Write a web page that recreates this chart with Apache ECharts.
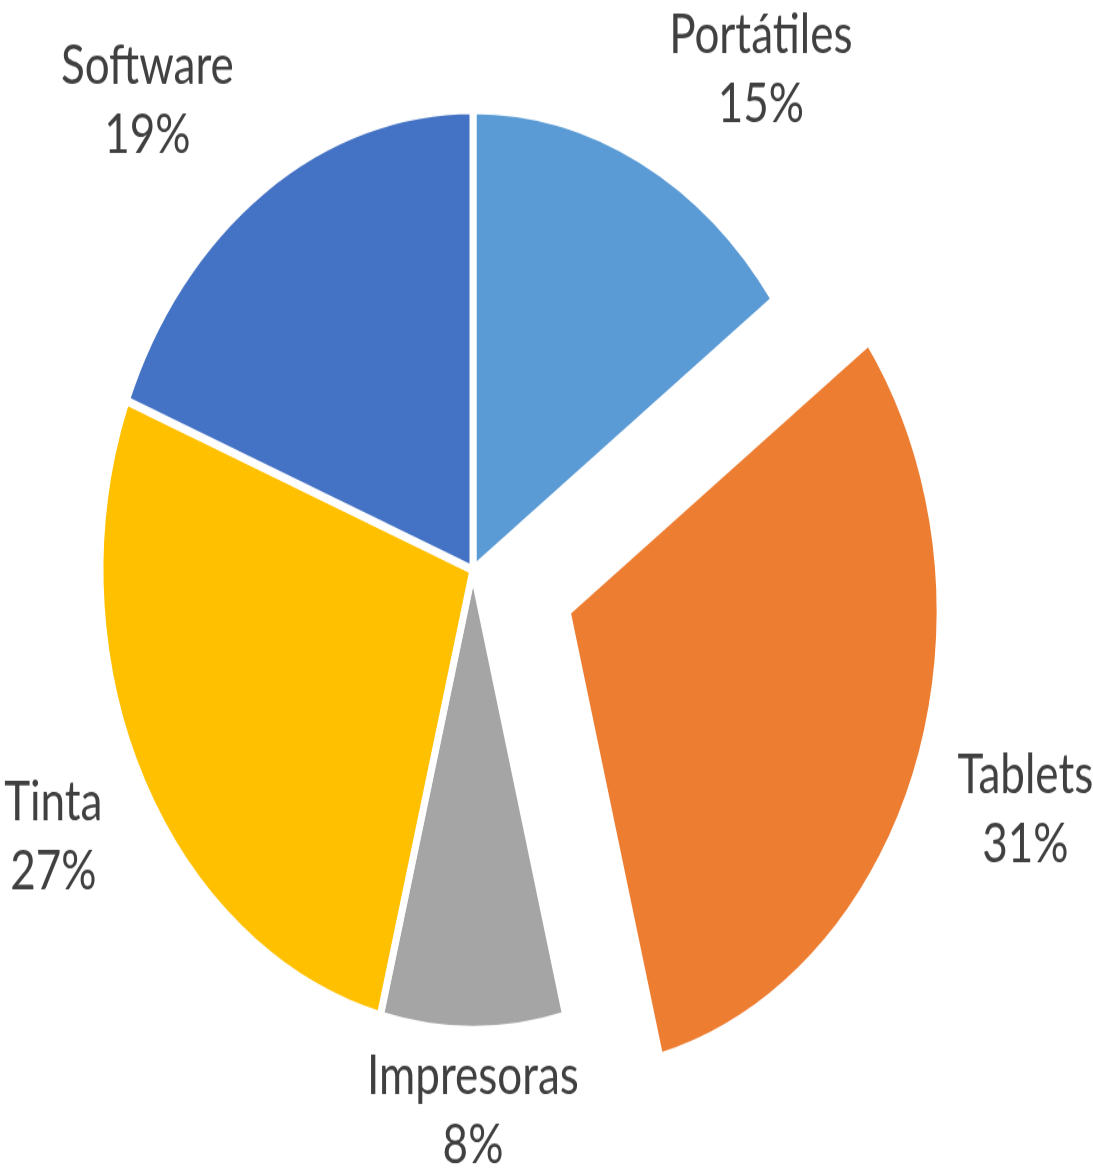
<!DOCTYPE html>
<html><head><meta charset="utf-8">
<script src="https://cdn.jsdelivr.net/npm/echarts@6/dist/echarts.min.js"></script>
<style>
html,body{margin:0;padding:0;background:#fff;overflow:hidden;}
#wrap{width:1093px;height:1168px;overflow:hidden;}
#chart{width:1093px;height:947px;transform:scaleY(1.2334);transform-origin:0 0;}
</style></head><body>
<div id="wrap"><div id="chart"></div></div>
<script>
const categories = ['Portátiles', 'Tablets', 'Impresoras', 'Tinta', 'Software'];
const values = [15, 31, 8, 27, 19];
const colors = ['#5B9BD5', '#ED7D31', '#A5A5A5', '#FFC000', '#4472C4'];
const explodedIndex = 1;

const CX = 473, CY = 462, R = 373, OFFSET = 100, GAP = 26;
const total = values.reduce((a, b) => a + b, 0);
const clamp = v => Math.max(-1, Math.min(1, v));

const chart = echarts.init(document.getElementById('chart'), null, {renderer: 'canvas'});
chart.setOption({
  backgroundColor: '#ffffff',
  animation: false,
  series: [{
    type: 'pie',
    center: [CX, CY],
    radius: R,
    startAngle: 90,
    clockwise: true,
    selectedMode: 'single',
    selectedOffset: OFFSET,
    avoidLabelOverlap: false,
    itemStyle: {borderColor: '#ffffff', borderWidth: 7},
    label: {
      show: true,
      position: 'outside',
      distanceToLabelLine: 0,
      fontFamily: 'Lato',
      fontSize: 44,
      lineHeight: 56,
      color: '#404040',
      formatter: p => p.name + '\n' + Math.round(p.percent) + '%'
    },
    labelLine: {show: false, length: GAP, length2: 0},
    emphasis: {disabled: true},
    labelLayout: function (p) {
      const i = p.dataIndex;
      let cum = 0;
      for (let k = 0; k < i; k++) cum += values[k];
      const th = 2 * Math.PI * (cum + values[i] / 2) / total;
      const ux = Math.sin(th), uy = -Math.cos(th);
      const w = p.labelRect.width, h = p.labelRect.height;
      return {
        dx: clamp(3 * ux) * (w / 2 + 15),
        dy: clamp(2 * uy) * (h / 2) * 0.8 - 5,
        align: 'center',
        verticalAlign: 'middle'
      };
    },
    data: categories.map((c, i) => ({
      name: c,
      value: values[i],
      selected: i === explodedIndex,
      itemStyle: {color: colors[i]}
    }))
  }]
});
</script>
</body></html>
